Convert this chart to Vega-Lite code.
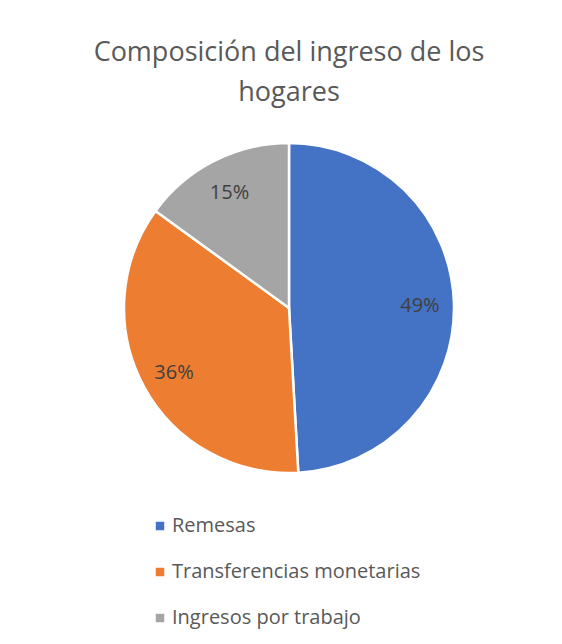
{
  "$schema": "https://vega.github.io/schema/vega-lite/v6.json",
  "width": 330,
  "height": 330,
  "autosize": "none",
  "padding": {"left": 124, "top": 143, "right": 108, "bottom": 171},
  "background": "white",
  "title": {
    "text": ["Composición del ingreso de los", "hogares"],
    "fontSize": 27,
    "font": "Open Sans",
    "fontWeight": "normal",
    "color": "#595959",
    "anchor": "middle",
    "offset": 31,
    "lineHeight": 40
  },
  "data": {
    "values": [
      {"fuente": "Remesas", "valor": 0.491, "orden": 1},
      {"fuente": "Transferencias monetarias", "valor": 0.359, "orden": 2},
      {"fuente": "Ingresos por trabajo", "valor": 0.15, "orden": 3}
    ]
  },
  "encoding": {
    "theta": {"field": "valor", "type": "quantitative", "stack": true},
    "order": {"field": "orden", "type": "quantitative"},
    "color": {
      "field": "fuente",
      "type": "nominal",
      "scale": {
        "domain": ["Remesas", "Transferencias monetarias", "Ingresos por trabajo"],
        "range": ["#4472C4", "#ED7D31", "#A5A5A5"]
      },
      "legend": {
        "title": null,
        "orient": "none",
        "legendX": 26,
        "legendY": 373,
        "direction": "vertical",
        "symbolType": "square",
        "symbolSize": 72,
        "symbolStrokeWidth": 0,
        "labelFont": "Open Sans",
        "labelFontSize": 20,
        "labelColor": "#595959",
        "labelLimit": 400,
        "rowPadding": 26,
        "labelOffset": 2
      }
    }
  },
  "layer": [
    {"mark": {"type": "arc", "outerRadius": 165, "stroke": "white", "strokeWidth": 2.5}},
    {
      "mark": {"type": "text", "radius": 131, "fontSize": 20, "font": "Open Sans", "dy": 2},
      "encoding": {
        "text": {"field": "valor", "type": "quantitative", "format": ".0%"},
        "color": {"value": "#404040"}
      }
    }
  ],
  "config": {"view": {"stroke": null}}
}
